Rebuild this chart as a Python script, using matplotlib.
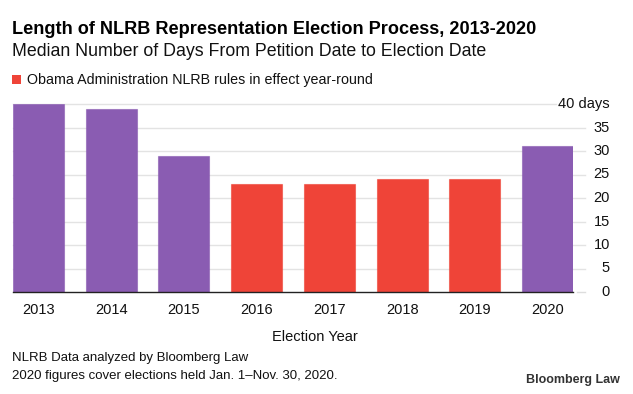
import matplotlib
matplotlib.use("Agg")
import matplotlib.pyplot as plt
import matplotlib.transforms as mtransforms

plt.rcParams['font.family'] = ['Liberation Sans', 'DejaVu Sans']

years = ["2013", "2014", "2015", "2016", "2017", "2018", "2019", "2020"]
days = [40, 39, 29, 23, 23, 24, 24, 31]
obama_rules = [False, False, False, True, True, True, True, False]
y_ticks = [0, 5, 10, 15, 20, 25, 30, 35, 40]
y_tick_labels = ["0", "5", "10", "15", "20", "25", "30", "35", "40 days"]

purple = "#8a5cb2"
red = "#ef4438"
colors = [red if o else purple for o in obama_rules]

W, H = 633, 394
fig = plt.figure(figsize=(W / 100, H / 100), dpi=100)
ax = fig.add_axes([13 / W, 1 - 292 / H, (573 - 13) / W, (292 - 104) / H])

x = range(len(years))
ax.bar(x, days, width=0.7, color=colors, edgecolor=[c + "99" for c in colors], linewidth=0.8, zorder=3)
ax.set_xlim(-0.35, len(years) - 0.65)
ax.set_ylim(0, 40)

# gridlines run a bit past the axes on the right, the 40 line stops at its label
trans = mtransforms.blended_transform_factory(ax.transAxes, ax.transData)
for t in y_ticks:
    if t == 0:
        ax.plot([0, 1], [0, 0], color="#222222", lw=1, transform=trans, zorder=4, clip_on=False)
        ax.plot([(577 - 13) / 560, (585 - 13) / 560], [0, 0], color="#dddddd", lw=1, transform=trans, clip_on=False)
    elif t == 40:
        ax.plot([0, (556 - 13) / 560], [t, t], color="#e3e3e3", lw=1, transform=trans, zorder=1, clip_on=False)
    else:
        ax.plot([0, (585 - 13) / 560], [t, t], color="#e3e3e3", lw=1, transform=trans, zorder=1, clip_on=False)

for t, lab in zip(y_ticks, y_tick_labels):
    ax.text((610 - 13) / 560, t, lab, transform=trans, ha="right", va="center", fontsize=10.5, color="#111111")

ax.set_yticks([])
ax.set_xticks(list(x))
ax.set_xticklabels(years, fontsize=10.5, color="#111111")
ax.tick_params(axis="x", length=0, pad=8)
for s in ax.spines.values():
    s.set_visible(False)

fig.text(315 / W, 1 - 337 / H, "Election Year", ha="center", va="center", fontsize=10.5, color="#111111")

fig.text(12 / W, 1 - 30 / H, "Length of NLRB Representation Election Process, 2013-2020",
         ha="left", va="center", fontsize=13.1, fontweight="bold", color="#000000")
fig.text(12 / W, 1 - 51 / H, "Median Number of Days From Petition Date to Election Date",
         ha="left", va="center", fontsize=12.8, color="#111111")

fig.patches.append(plt.Rectangle((12 / W, 1 - 84 / H), 9 / W, 9 / H, transform=fig.transFigure,
                                 facecolor=red, edgecolor="none"))
fig.text(27 / W, 1 - 80 / H, "Obama Administration NLRB rules in effect year-round",
         ha="left", va="center", fontsize=10.3, color="#111111")

fig.text(12 / W, 1 - 358 / H, "NLRB Data analyzed by Bloomberg Law", ha="left", va="center",
         fontsize=9.5, color="#111111")
fig.text(12 / W, 1 - 376 / H, "2020 figures cover elections held Jan. 1\u2013Nov. 30, 2020.", ha="left",
         va="center", fontsize=9.5, color="#111111")
fig.text(620 / W, 1 - 380 / H, "Bloomberg Law", ha="right", va="center", fontsize=9,
         fontweight="bold", color="#333333")

fig.savefig("out.png", dpi=100)
